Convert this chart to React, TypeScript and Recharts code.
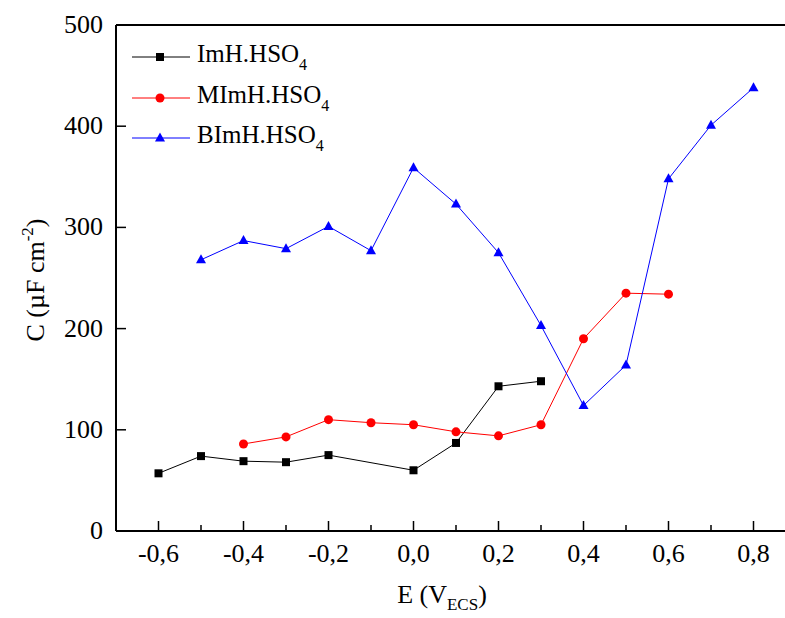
import {
  LineChart,
  Line,
  XAxis,
  YAxis,
  ReferenceLine,
} from "recharts";

const serif = '"Liberation Serif", "Times New Roman", serif';

// potentials (V vs ECS)
const potentials = [-0.6, -0.5, -0.4, -0.3, -0.2, -0.1, 0.0, 0.1, 0.2, 0.3, 0.4, 0.5, 0.6, 0.7, 0.8];

// capacitance values (µF cm-2), null where not measured
const imh = [57, 74, 69, 68, 75, null, 60, 87, 143, 148, null, null, null, null, null];
const mimh = [null, null, 86, 93, 110, 107, 105, 98, 94, 105, 190, 235, 234, null, null];
const bimh = [null, 268, 287, 279, 301, 277, 359, 323, 275, 203, 124, 164, 348, 401, 438];

const xTicks = [-0.6, -0.5, -0.4, -0.3, -0.2, -0.1, 0.0, 0.1, 0.2, 0.3, 0.4, 0.5, 0.6, 0.7, 0.8];
const yTicks = [0, 100, 200, 300, 400, 500];

const data = potentials.map((e, i) => ({ e, imh: imh[i], mimh: mimh[i], bimh: bimh[i] }));

const series = [
  { key: "imh", name: "ImH.HSO", color: "#000000", shape: "square" },
  { key: "mimh", name: "MImH.HSO", color: "#ff0000", shape: "circle" },
  { key: "bimh", name: "BImH.HSO", color: "#0000ff", shape: "triangle" },
];

const Marker = ({ cx, cy, shape, color }: any) => {
  if (cx == null || cy == null) return null;
  if (shape === "square")
    return <rect x={cx - 4} y={cy - 4} width={8} height={8} fill={color} />;
  if (shape === "circle") return <circle cx={cx} cy={cy} r={4.5} fill={color} />;
  return (
    <polygon
      points={`${cx},${cy - 5.5} ${cx + 5},${cy + 3.5} ${cx - 5},${cy + 3.5}`}
      fill={color}
    />
  );
};

const XTick = ({ x, y, payload }: any) => {
  const v = Math.round(payload.value * 10);
  const major = v % 2 === 0;
  return (
    <g>
      <line x1={x} y1={y} x2={x} y2={y - (major ? 10 : 6)} stroke="#000" strokeWidth={1.5} />
      {major && (
        <text x={x} y={y + 31} textAnchor="middle" fontFamily={serif} fontSize={26} fill="#000">
          {payload.value.toFixed(1).replace(".", ",")}
        </text>
      )}
    </g>
  );
};

const YTick = ({ x, y, payload }: any) => (
  <g>
    <line x1={x} y1={y} x2={x + 10} y2={y} stroke="#000" strokeWidth={1.5} />
    <text x={x - 13} y={y + 8} textAnchor="end" fontFamily={serif} fontSize={26} fill="#000">
      {payload.value}
    </text>
  </g>
);

const LegendBox = () => (
  <div
    style={{
      position: "absolute",
      left: 132,
      top: 37,
      fontFamily: serif,
      fontSize: 25,
      color: "#000",
    }}
  >
    {series.map((s) => (
      <div key={s.key} style={{ display: "flex", alignItems: "center", height: 40.5 }}>
        <svg width={58} height={14} style={{ marginRight: 7 }}>
          <line x1={0} y1={7} x2={58} y2={7} stroke={s.color} strokeWidth={1} />
          <Marker cx={28} cy={7} shape={s.shape} color={s.color} />
        </svg>
        <span style={{ lineHeight: 1 }}>
          {s.name}
          <sub style={{ fontSize: 16, verticalAlign: -8 }}>4</sub>
        </span>
      </div>
    ))}
  </div>
);

export default function App() {
  return (
    <div
      style={{
        position: "absolute",
        left: 0,
        top: 0,
        width: 785,
        height: 618,
        overflow: "hidden",
        background: "#fff",
      }}
    >
      <LineChart
        width={800}
        height={618}
        data={data}
        margin={{ top: 25, right: 4, left: 0, bottom: 0 }}
      >
        <XAxis
          dataKey="e"
          type="number"
          domain={[-0.7, 0.9]}
          ticks={xTicks}
          interval={0}
          height={87}
          tickSize={0}
          tickMargin={0}
          tickLine={false}
          tick={<XTick />}
          axisLine={{ stroke: "#000", strokeWidth: 2 }}
          label={{
            content: () => (
              <text x={442} y={603} textAnchor="middle" fontFamily={serif} fontSize={26} fill="#000">
                E (V
                <tspan fontSize={17} dy={7}>ECS</tspan>
                <tspan dy={-7}>)</tspan>
              </text>
            ),
          }}
        />
        <YAxis
          type="number"
          domain={[0, 500]}
          ticks={yTicks}
          width={116}
          tickSize={0}
          tickMargin={0}
          tickLine={false}
          tick={<YTick />}
          axisLine={{ stroke: "#000", strokeWidth: 2 }}
          label={{
            content: () => (
              <text
                x={0}
                y={0}
                transform="translate(44,280) rotate(-90)"
                textAnchor="middle"
                fontFamily={serif}
                fontSize={26}
                fill="#000"
              >
                C (µF cm
                <tspan fontSize={17} dy={-11}>-2</tspan>
                <tspan dy={11}>)</tspan>
              </text>
            ),
          }}
        />
        <ReferenceLine y={500} stroke="#000" strokeWidth={2} />
        {series.map((s) => (
          <Line
            key={s.key}
            dataKey={s.key}
            name={s.name}
            stroke={s.color}
            strokeWidth={1}
            connectNulls
            isAnimationActive={false}
            dot={(p: any) => <Marker key={`${s.key}-${p.index}`} cx={p.cx} cy={p.cy} shape={s.shape} color={s.color} />}
            activeDot={false}
          />
        ))}
      </LineChart>
      <LegendBox />
    </div>
  );
}
